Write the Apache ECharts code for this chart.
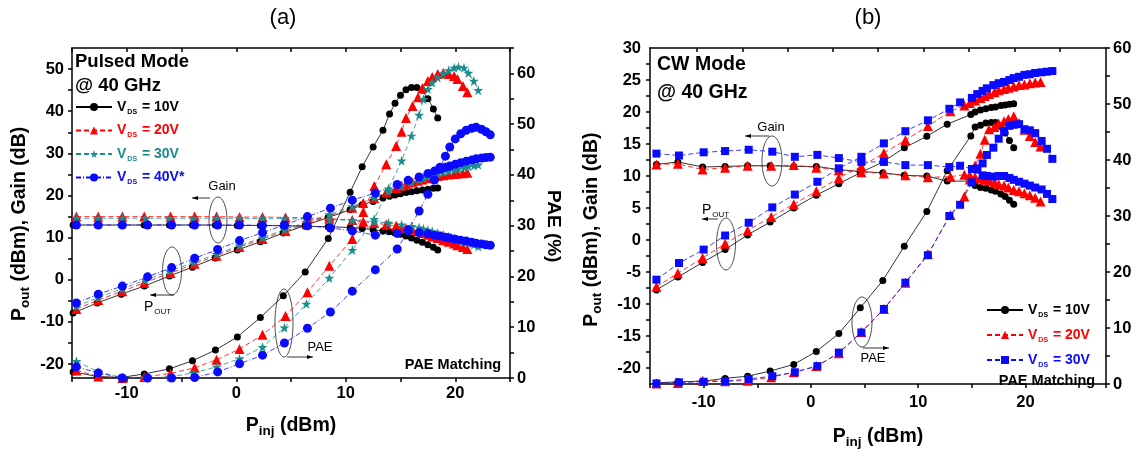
<!DOCTYPE html>
<html><head><meta charset="utf-8">
<script src="https://cdn.jsdelivr.net/npm/echarts@6/dist/echarts.min.js"></script>
<style>html,body{margin:0;padding:0;background:#fff}#c{width:1135px;height:454px}</style>
</head><body><div id="c"></div>
<script>
// ---------- Panel (a): Pulsed mode ----------
const a10_pin  = [-14.9,-12.7,-10.5,-8.4,-6.1,-4.0,-1.9,0.1,2.2,4.3,6.3,8.4,10.4,11.5,12.5,13.4,14.0,14.5,15.0,15.5,16.0,16.5,17.0,17.5,18.0,18.4];
const a10_pout = [-7.9,-5.5,-3.4,-1.5,0.9,3.0,5.2,7.1,9.0,11.1,12.9,14.8,16.6,17.8,18.6,19.4,19.8,20.1,20.4,20.7,20.9,21.1,21.3,21.5,21.7,21.8];
const a10_gain = [13.0,13.0,13.0,13.0,13.0,13.0,13.0,12.9,12.9,12.8,12.7,12.6,12.4,12.2,11.9,11.6,11.4,11.1,10.8,10.4,9.9,9.4,8.9,8.3,7.7,7.1];
const a10_pae  = [1.2,0.3,0.1,0.8,1.8,3.4,5.5,8.1,11.9,16.2,20.9,27.5,36.6,41.6,45.5,48.8,52.0,54.1,55.7,56.8,57.2,57.2,56.7,55.0,53.0,51.2];

const a20_pin  = [-14.6,-12.6,-10.4,-8.4,-6.0,-3.8,-1.8,0.3,2.4,4.5,6.5,8.5,10.6,11.6,12.6,13.7,14.6,15.1,15.5,16.1,16.6,17.0,17.5,17.9,18.4,18.9,19.4,19.9,20.2,20.7,21.1];
const a20_pout = [-6.9,-4.8,-2.7,-0.7,1.6,3.8,5.7,7.8,9.7,11.6,13.3,15.1,17.1,18.2,19.4,20.8,21.8,22.3,22.7,23.1,23.5,23.8,24.1,24.3,24.6,24.8,25.0,25.1,25.2,25.3,25.4];
const a20_gain = [15.0,15.0,15.0,15.0,15.0,15.0,15.0,14.9,14.9,14.8,14.7,14.5,14.2,13.8,13.5,13.1,12.8,12.5,12.2,11.9,11.5,11.1,10.7,10.3,9.9,9.4,9.0,8.6,8.2,7.8,7.3];
const a20_pae  = [1.5,0.3,0.0,0.2,0.9,2.0,3.6,5.7,8.5,12.2,16.9,22.1,27.4,32.7,37.8,42.1,45.7,48.5,51.2,53.6,55.3,57.1,58.5,59.3,59.9,60.1,59.9,59.5,58.9,57.5,56.3];

const a30_pin  = [-14.6,-12.6,-10.4,-8.3,-6.1,-3.9,-1.8,0.3,2.4,4.4,6.4,8.5,10.6,12.6,13.9,15.1,16.0,16.7,17.1,17.5,17.9,18.4,18.9,19.4,19.9,20.3,20.8,21.2,21.7,22.1];
const a30_pout = [-6.3,-4.2,-2.1,-0.1,2.1,4.1,6.1,8.1,10.0,11.9,13.7,15.5,17.4,19.5,21.0,22.3,23.1,23.7,24.1,24.5,24.8,25.2,25.5,25.8,26.1,26.4,26.7,26.9,27.1,27.3];
const a30_gain = [14.6,14.6,14.6,14.6,14.6,14.6,14.6,14.6,14.5,14.5,14.4,14.3,14.1,13.8,13.5,13.1,12.7,12.4,12.1,11.8,11.5,11.1,10.7,10.3,9.9,9.5,9.1,8.7,8.3,7.9];
const a30_pae  = [3.3,1.2,0.1,0.0,0.2,1.0,2.2,3.8,6.1,9.9,14.6,19.7,25.2,31.3,37.3,42.8,47.7,51.8,54.9,56.9,58.2,59.2,60.0,60.6,61.1,61.3,61.1,60.1,58.5,56.7];

const a40_pin  = [-14.6,-12.6,-10.4,-8.1,-5.9,-3.8,-1.7,0.3,2.4,4.4,6.5,8.6,10.6,12.7,14.7,15.7,16.7,17.5,18.1,18.6,19.1,19.5,20.0,20.5,21.0,21.5,21.9,22.4,22.8,23.2];
const a40_pout = [-5.5,-3.4,-1.5,0.7,2.9,5.1,7.2,9.3,11.2,13.0,15.0,17.0,18.9,20.6,22.6,23.6,24.4,25.2,25.8,26.2,26.7,27.0,27.4,27.8,28.1,28.4,28.7,28.9,29.0,29.1];
const a40_gain = [13.0,13.0,13.0,13.0,13.0,13.0,13.0,13.0,12.9,12.9,12.8,12.3,11.6,10.6,11.0,11.8,11.2,10.9,10.6,10.4,10.1,9.9,9.6,9.4,9.2,8.9,8.7,8.5,8.3,8.2];
const a40_pae  = [2.2,1.0,0.0,0.0,0.0,0.1,1.2,2.8,4.5,6.9,9.8,13.0,17.1,21.3,25.4,29.0,32.9,36.2,39.0,41.5,43.7,45.5,47.1,48.1,48.8,49.2,49.4,49.0,48.5,47.9];

// ---------- Panel (b): CW mode ----------
const b10_pin  = [-14.4,-12.4,-10.1,-8.0,-5.9,-3.8,-1.6,0.5,2.6,4.6,6.7,8.7,10.8,12.7,14.9,15.3,15.8,16.3,16.8,17.2,17.7,18.1,18.5,18.9];
const b10_pout = [-7.8,-5.8,-3.5,-1.5,0.8,2.8,5.0,7.0,8.8,10.5,12.2,14.4,16.2,18.1,19.6,20.0,20.3,20.5,20.7,20.8,21.0,21.1,21.2,21.3];
const b10_gain = [11.8,12.2,11.4,11.5,11.6,11.6,11.5,11.5,11.0,10.7,10.5,10.1,10.0,9.2,9.2,8.5,8.2,8.1,7.8,7.6,7.2,6.8,6.2,5.6];
const b10_pae  = [0.2,0.4,0.5,1.0,1.4,2.3,3.5,5.8,9.0,13.6,18.5,24.6,30.8,38.1,44.3,45.9,46.2,46.6,46.7,46.7,46.0,44.8,43.5,42.2];

const b20_pin  = [-14.4,-12.4,-10.1,-8.0,-5.9,-3.7,-1.6,0.5,2.6,4.7,6.8,8.8,10.9,13.0,14.3,14.8,15.3,15.8,16.2,16.6,17.1,17.5,18.0,18.4,18.9,19.4,19.9,20.4,20.9,21.4];
const b20_pout = [-7.3,-5.2,-2.8,-0.6,1.5,3.6,5.6,7.6,9.7,11.5,13.6,15.6,17.8,20.1,21.0,21.4,21.8,22.2,22.5,22.8,23.1,23.4,23.6,23.8,24.0,24.2,24.3,24.5,24.6,24.7];
const b20_gain = [11.8,11.9,11.0,11.3,11.6,11.6,11.7,11.3,10.9,10.6,10.4,10.1,9.8,9.9,10.2,10.1,9.8,9.6,9.4,9.2,9.0,8.7,8.5,8.2,7.8,7.6,7.3,7.0,6.6,6.0];
const b20_pae  = [0.1,0.2,0.6,0.5,0.6,1.2,2.1,3.2,5.5,9.3,13.4,18.1,23.2,30.2,33.5,36.5,39.0,41.1,43.6,45.5,45.9,46.5,46.9,47.3,47.8,46.6,45.4,44.3,43.2,42.4];

const b30_pin  = [-14.4,-12.3,-10.0,-8.0,-5.8,-3.6,-1.5,0.6,2.6,4.7,6.8,8.8,10.9,12.9,13.9,15.0,15.5,16.0,16.4,17.0,17.5,18.0,18.5,18.9,19.4,19.9,20.4,20.9,21.5,22.0,22.5];
const b30_pout = [-6.2,-3.6,-1.5,0.7,2.7,5.1,7.1,9.1,11.2,13.0,15.1,17.0,18.7,20.5,21.5,22.2,22.8,23.3,23.7,24.2,24.5,24.7,25.0,25.3,25.5,25.8,25.9,26.1,26.2,26.3,26.4];
const b30_gain = [13.5,13.2,13.7,13.9,14.1,13.8,13.0,13.3,12.8,12.2,12.2,11.7,11.7,11.4,11.6,11.1,11.0,10.1,10.0,9.9,10.0,10.0,9.7,9.4,9.1,8.8,8.5,8.2,7.9,7.2,6.4];
const b30_pae  = [0.1,0.3,0.4,0.5,0.9,1.4,2.1,3.2,5.6,9.2,13.4,18.1,23.0,30.0,32.0,36.0,38.5,39.4,40.9,42.2,43.8,45.2,46.1,46.3,46.4,45.5,45.3,44.8,43.4,42.0,40.2];

// ---------- Tick labels ----------
const aLeftLabels  = [-20,-10,0,10,20,30,40,50];
const aLeftTicks   = [-20,-15,-10,-5,0,5,10,15,20,25,30,35,40,45,50];
const bLeftLabels  = [-20,-15,-10,-5,0,5,10,15,20,25,30];
const bLeftTicks   = [-20,-17.5,-15,-12.5,-10,-7.5,-5,-2.5,0,2.5,5,7.5,10,12.5,15,17.5,20,22.5,25,27.5];
const bTopTicks    = [-10.6,-6.4,-2.2,2.0,6.2,10.5,14.7,19.0,23.2];

const FONT = '"Liberation Sans", Arial, Helvetica, sans-serif';
const STAR = 'path://M50,0 L61,35 L98,35 L68,57 L79,91 L50,70 L21,91 L32,57 L2,35 L39,35 Z';
const BLACK = '#000000', RED = '#ff0000', TEAL = '#1a8c8c', BLUE = '#0a0aff';

function pairs(xs, ys) { return xs.map((x, i) => [x, ys[i]]); }
function mk(name, xi, yi, xs, ys, color, symbol, size, ltype) {
  return { type: 'line', name, xAxisIndex: xi, yAxisIndex: yi, data: pairs(xs, ys),
    symbol, symbolSize: size, showSymbol: true, animation: false,
    lineStyle: { color, width: 0.8, type: ltype }, itemStyle: { color } };
}
function trio(name, xi, yl, yr, pin, pout, gain, pae, color, sym, size, lt) {
  return [mk(name, xi, yl, pin, pout, color, sym, size, lt),
          mk(name, xi, yl, pin, gain, color, sym, size, lt),
          mk(name, xi, yr, pin, pae, color, sym, size, lt)];
}

const series = [].concat(
  trio('a10', 0, 0, 1, a10_pin, a10_pout, a10_gain, a10_pae, BLACK, 'circle', 7, 'solid'),
  trio('a20', 0, 0, 1, a20_pin, a20_pout, a20_gain, a20_pae, RED, 'triangle', 10, [5, 3]),
  trio('a30', 0, 0, 1, a30_pin, a30_pout, a30_gain, a30_pae, TEAL, STAR, 10, [5, 3]),
  trio('a40', 0, 0, 1, a40_pin, a40_pout, a40_gain, a40_pae, BLUE, 'circle', 9, [5, 2, 1, 2]),
  trio('b10', 2, 2, 3, b10_pin, b10_pout, b10_gain, b10_pae, BLACK, 'circle', 7, 'solid'),
  trio('b20', 2, 2, 3, b20_pin, b20_pout, b20_gain, b20_pae, RED, 'triangle', 10, [5, 3]),
  trio('b30', 2, 2, 3, b30_pin, b30_pout, b30_gain, b30_pae, BLUE, 'rect', 8, [5, 3])
);

const axLine = { show: true, onZero: false, lineStyle: { color: '#000', width: 1.5 } };
const lblStyle = { color: '#000', fontFamily: FONT, fontSize: 16.5, fontWeight: 'bold' };
const nameRich = {
  b: { fontFamily: FONT, fontSize: 19.5, fontWeight: 'bold', color: '#000' },
  s: { fontFamily: FONT, fontSize: 13.5, fontWeight: 'bold', color: '#000', padding: [10, 0, 0, 0] }
};
const tens = v => (Math.abs(v % 10) < 1e-9 ? String(v) : '');

const xAxis = [
  { gridIndex: 0, type: 'value', position: 'bottom', min: -15, max: 25, interval: 5,
    axisLine: axLine, axisTick: { inside: false, length: 4, lineStyle: { width: 1.5 } },
    axisLabel: Object.assign({ margin: 7, formatter: tens }, lblStyle), splitLine: { show: false },
    name: '{b|P}{s|inj}{b| (dBm)}', nameLocation: 'middle', nameGap: 36, nameTextStyle: { rich: nameRich } },
  { gridIndex: 0, type: 'value', position: 'top', min: -15, max: 25, interval: 5,
    axisLine: axLine, axisTick: { inside: true, length: 4, lineStyle: { width: 1.5 } },
    axisLabel: { show: false }, splitLine: { show: false } },
  { gridIndex: 1, type: 'value', position: 'bottom', min: -15, max: 27.5, interval: 5,
    axisLine: axLine, axisTick: { inside: false, length: 4, lineStyle: { width: 1.5 } },
    axisLabel: Object.assign({ margin: 10, formatter: tens }, lblStyle), splitLine: { show: false },
    name: '{b|P}{s|inj}{b| (dBm)}', nameLocation: 'middle', nameGap: 41, nameTextStyle: { rich: nameRich } },
  { gridIndex: 1, type: 'value', position: 'top', min: -15, max: 27.5,
    axisLine: axLine, axisTick: { inside: true, length: 4, lineStyle: { width: 1.5 }, customValues: bTopTicks },
    axisLabel: { show: false }, splitLine: { show: false } }
];

const yAxis = [
  { gridIndex: 0, type: 'value', position: 'left', min: -23.3, max: 55,
    axisLine: axLine, axisTick: { inside: false, length: 4, lineStyle: { width: 1.5 }, customValues: aLeftTicks },
    axisLabel: Object.assign({ margin: 8, customValues: aLeftLabels }, lblStyle), splitLine: { show: false },
    name: '{b|P}{s|out}{b| (dBm), Gain (dB)}{b|    }', nameLocation: 'middle', nameGap: 40, nameRotate: 90,
    nameTextStyle: { rich: nameRich } },
  { gridIndex: 0, type: 'value', position: 'right', min: 0, max: 65, interval: 5,
    axisLine: axLine, axisTick: { inside: false, length: 4, lineStyle: { width: 1.5 } },
    axisLabel: Object.assign({ margin: 7, formatter: tens }, lblStyle), splitLine: { show: false },
    name: '{b|     PAE (%)}', nameLocation: 'middle', nameGap: 34, nameRotate: -90,
    nameTextStyle: { rich: { b: { fontFamily: FONT, fontSize: 19, fontWeight: 'bold', color: '#000' } } } },
  { gridIndex: 1, type: 'value', position: 'left', min: -22.5, max: 30,
    axisLine: axLine, axisTick: { inside: false, length: 4, lineStyle: { width: 1.5 }, customValues: bLeftTicks },
    axisLabel: Object.assign({ margin: 9, customValues: bLeftLabels }, lblStyle), splitLine: { show: false },
    name: '{b|P}{s|out}{b| (dBm), Gain (dB)}{b|     }', nameLocation: 'middle', nameGap: 46, nameRotate: 90,
    nameTextStyle: { rich: nameRich } },
  { gridIndex: 1, type: 'value', position: 'right', min: 0, max: 60, interval: 5,
    axisLine: axLine, axisTick: { inside: false, length: 4, lineStyle: { width: 1.5 } },
    axisLabel: Object.assign({ margin: 7, formatter: tens }, lblStyle), splitLine: { show: false } }
];

const legRich = {
  v: { fontFamily: FONT, fontSize: 14, fontWeight: 'bold' },
  s: { fontFamily: FONT, fontSize: 7, fontWeight: 'bold', padding: [10, 1, 0, 1] },
  e: { fontFamily: FONT, fontSize: 14, fontWeight: 'bold' }
};
const legText = { a10: ' = 10V', a20: ' = 20V', a30: ' = 30V', a40: ' = 40V*', b10: ' = 10V', b20: ' = 20V', b30: ' = 30V' };
const legFmt = n => '{v|V}{s|DS}{e|' + legText[n] + '}';

function leg(left, top, gap, names, colors) {
  return { orient: 'vertical', left, top, itemWidth: 36, itemHeight: 10, itemGap: gap,
    selectedMode: false, formatter: legFmt, padding: 0,
    textStyle: { fontFamily: FONT, fontSize: 14, fontWeight: 'bold', rich: legRich },
    data: names.map((n, i) => ({ name: n, textStyle: { color: colors[i] } })) };
}

function T(x, y, text, size, weight, align, extra) {
  return Object.assign({ type: 'text', x, y, style: { text, fontFamily: FONT, fontSize: size,
    fontWeight: weight, fill: '#000', align: align || 'center', verticalAlign: 'middle' } }, extra || {});
}
function E(cx, cy, rx, ry) {
  return { type: 'ellipse', shape: { cx, cy, rx, ry }, style: { fill: 'none', stroke: '#222', lineWidth: 0.8 } };
}
function A(x1, x2, y) { // horizontal arrow from x1 to x2 (head at x2)
  const d = x2 > x1 ? 1 : -1;
  return [
    { type: 'line', shape: { x1, y1: y, x2, y2: y }, style: { stroke: '#000', lineWidth: 0.8 } },
    { type: 'polygon', shape: { points: [[x2, y], [x2 - d * 6, y - 2], [x2 - d * 6, y + 2]] }, style: { fill: '#000' } }
  ];
}
function PT(x, y) {
  return { type: 'text', x, y, style: { text: '{p|P}{s|OUT}', verticalAlign: 'middle',
    rich: { p: { fontFamily: FONT, fontSize: 14, fill: '#000' },
            s: { fontFamily: FONT, fontSize: 8, fill: '#000', padding: [9, 0, 0, 1] } } } };
}

const graphic = [].concat(
  [T(283, 18, '(a)', 22, 'normal'), T(868, 18, '(b)', 22, 'normal'),
   T(75, 62, 'Pulsed Mode', 18.5, 'bold', 'left'), T(75, 86, '@ 40 GHz', 18.5, 'bold', 'left'),
   T(657, 65, 'CW Mode', 19.5, 'bold', 'left'), T(657, 93, '@ 40 GHz', 19.5, 'bold', 'left'),
   T(222, 186, 'Gain', 13, 'normal'), E(218, 220, 9, 23),
   PT(144, 307), E(172, 271, 9.5, 24),
   E(284, 323, 9, 34), T(320, 347, 'PAE', 13, 'normal'),
   T(453, 365, 'PAE Matching', 14.5, 'bold'),
   T(771, 127, 'Gain', 13, 'normal'), E(772, 161, 10, 25),
   PT(702, 210), E(726, 244, 9.5, 26),
   E(862, 322, 10, 25), T(873, 358, 'PAE', 13, 'normal'),
   T(1047, 381, 'PAE Matching', 14.5, 'bold')],
  A(210, 192, 198), A(174, 150, 295), A(287, 313, 357),
  A(769, 745, 136), A(718, 702, 219), A(863, 889, 348)
);

const chart = echarts.init(document.getElementById('c'), null, { renderer: 'canvas' });
chart.setOption({
  backgroundColor: '#fff',
  animation: false,
  grid: [
    { left: 72, top: 48, width: 438, height: 330 },
    { left: 650, top: 48, width: 456, height: 341 }
  ],
  xAxis, yAxis, series, graphic,
  legend: [
    leg(75, 100, 8, ['a10', 'a20', 'a30', 'a40'], [BLACK, RED, TEAL, BLUE]),
    leg(986, 303, 9.5, ['b10', 'b20', 'b30'], [BLACK, RED, BLUE])
  ]
});
</script></body></html>
